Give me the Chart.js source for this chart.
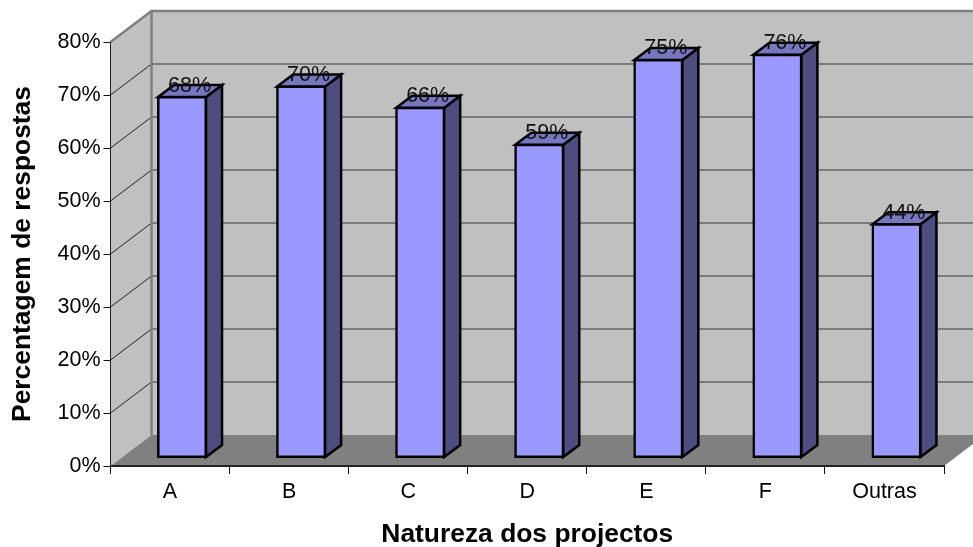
<!DOCTYPE html>
<html>
<head>
<meta charset="utf-8">
<script src="https://cdn.jsdelivr.net/npm/chart.js@4/dist/chart.umd.min.js"></script>
<style>
  html, body { margin: 0; padding: 0; background: #fff; overflow: hidden; }
  canvas { display: block; }
</style>
</head>
<body>
<canvas id="myChart" width="973" height="547"></canvas>
<script>
const categories = ["A", "B", "C", "D", "E", "F", "Outras"];
const respostas = [68, 70, 66, 59, 75, 76, 44];
const yTicks = [0, 10, 20, 30, 40, 50, 60, 70, 80];

const FONT = "'Liberation Sans', Arial, sans-serif";
// how far the back wall sits from the front of the plot
const wallDx = 41, wallDy = -31;
// where the bars stand on the floor, and how deep they are
const barDx = 12, barDy = -8.5, sideDx = 16, sideDy = -12;

function poly(ctx, pts, fill, stroke, lw) {
  ctx.beginPath();
  pts.forEach((p, i) => i ? ctx.lineTo(p[0], p[1]) : ctx.moveTo(p[0], p[1]));
  ctx.closePath();
  if (fill) { ctx.fillStyle = fill; ctx.fill(); }
  if (stroke) { ctx.strokeStyle = stroke; ctx.lineWidth = lw; ctx.lineJoin = "miter"; ctx.stroke(); }
}

const walls = {
  id: "walls",
  beforeDraw(chart) {
    const { ctx, chartArea: a, scales: { y } } = chart;
    ctx.save();
    // back wall and side wall
    poly(ctx, [[a.left + wallDx, a.top + wallDy], [a.right + wallDx, a.top + wallDy], [a.right + wallDx, a.bottom + wallDy], [a.left + wallDx, a.bottom + wallDy]], "#C0C0C0");
    poly(ctx, [[a.left, a.top], [a.left + wallDx, a.top + wallDy], [a.left + wallDx, a.bottom + wallDy], [a.left, a.bottom]], "#C0C0C0");
    // gridlines on both walls
    yTicks.forEach((t) => {
      const py = y.getPixelForValue(t);
      if (t > 0 && t < 80) {
        ctx.strokeStyle = "#666666";
        ctx.lineWidth = 1.5;
        ctx.beginPath();
        ctx.moveTo(a.left + wallDx, py + wallDy);
        ctx.lineTo(a.right + wallDx, py + wallDy);
        ctx.stroke();
        ctx.strokeStyle = "#222222";
        ctx.lineWidth = 1;
        ctx.beginPath();
        ctx.moveTo(a.left, py);
        ctx.lineTo(a.left + wallDx, py + wallDy);
        ctx.stroke();
      }
    });
    // wall edges
    ctx.strokeStyle = "#808080";
    ctx.lineWidth = 2.5;
    ctx.beginPath();
    ctx.moveTo(a.left, a.top);
    ctx.lineTo(a.left + wallDx, a.top + wallDy);
    ctx.lineTo(a.right + wallDx, a.top + wallDy);
    ctx.moveTo(a.left + wallDx, a.top + wallDy);
    ctx.lineTo(a.left + wallDx, a.bottom + wallDy);
    ctx.stroke();
    // floor
    poly(ctx, [[a.left, a.bottom], [a.left + wallDx, a.bottom + wallDy], [a.right + wallDx, a.bottom + wallDy], [a.right, a.bottom]], "#808080");
    ctx.restore();
  },
  beforeDatasetsDraw(chart) {
    const { ctx } = chart;
    ctx.save();
    chart.getDatasetMeta(0).data.forEach((bar) => {
      const l = bar.x - bar.width / 2 + barDx, r = bar.x + bar.width / 2 + barDx;
      const t = bar.y + barDy, b = bar.base + barDy;
      poly(ctx, [[r, t], [r + sideDx, t + sideDy], [r + sideDx, b + sideDy], [r, b]], "#4D4D80", "#000", 2.5);
      poly(ctx, [[l, t], [l + sideDx, t + sideDy], [r + sideDx, t + sideDy], [r, t]], "#7777BF", "#000", 2.5);
    });
    ctx.restore();
    ctx.save();
    ctx.translate(barDx, barDy);
  },
  afterDatasetsDraw(chart) {
    const { ctx } = chart;
    ctx.restore();
    ctx.save();
    ctx.fillStyle = "#111111";
    ctx.font = "21.5px " + FONT;
    ctx.textAlign = "center";
    ctx.textBaseline = "middle";
    chart.getDatasetMeta(0).data.forEach((bar, i) => {
      ctx.fillText(respostas[i] + "%", bar.x + 19.5, bar.y - 20);
    });
    ctx.restore();
  }
};

new Chart(document.getElementById("myChart").getContext("2d"), {
  type: "bar",
  data: {
    labels: categories,
    datasets: [{
      data: respostas,
      backgroundColor: "#9999FF",
      borderColor: "#000000",
      borderWidth: 2.5,
      borderSkipped: false,
      inflateAmount: 1,
      barPercentage: 0.403,
      categoryPercentage: 1,
      clip: false
    }]
  },
  options: {
    responsive: false,
    animation: false,
    layout: { padding: { top: 42, right: 29, left: 0, bottom: 0 } },
    plugins: { legend: { display: false }, tooltip: { enabled: false } },
    scales: {
      x: {
        afterFit(s) { s.height = 81; },
        grid: { drawOnChartArea: false, color: "#111", tickLength: 8, tickWidth: 1 },
        border: { color: "#222", width: 2 },
        ticks: { color: "#000", font: { family: FONT, size: 21.5 }, padding: 5, maxRotation: 0 },
        title: { display: true, text: "Natureza dos projectos", color: "#000", font: { family: FONT, size: 26.4, weight: "bold", lineHeight: 1 }, padding: { top: 0, bottom: -1 } }
      },
      y: {
        min: 0,
        max: 80,
        afterFit(s) { s.width = 110.5; },
        afterBuildTicks(s) { s.ticks = yTicks.map((v) => ({ value: v })); },
        grid: { drawOnChartArea: false, color: "#111", tickLength: 7, tickWidth: 1 },
        border: { color: "#222", width: 1 },
        ticks: { color: "#000", font: { family: FONT, size: 21.5 }, padding: 3, callback: (v) => v + "%" },
        title: { display: true, text: "Percentagem de respostas", color: "#000", font: { family: FONT, size: 26.4, weight: "bold", lineHeight: 1 }, padding: { top: 10, bottom: 0 } }
      }
    }
  },
  plugins: [walls]
});
</script>
</body>
</html>
